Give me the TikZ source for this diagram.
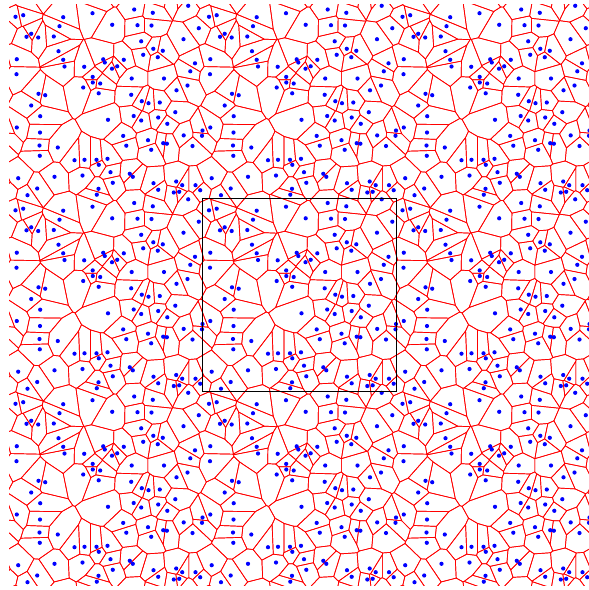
\documentclass[tikz,border=0pt]{standalone}
\usetikzlibrary{calc}
\definecolor{cellred}{RGB}{255,0,0}
\definecolor{siteblue}{RGB}{0,0,255}

\def\tilesize{193.5}
\def\reach{66}
% sites of the framed tile
\def\sitelist{209/210.3, 216.7/208.7, 256.7/210.7, 253/219.7, 224.7/227.3,
  220/230.3, 231.7/231, 247.3/230, 252/244.7, 210.3/252.7, 256.7/253.3,
  258/260, 327.7/203, 286/206.7, 305.7/218.3, 331/218.7, 334.7/234.8,
  296.7/252.8, 298.3/256, 317.3/253.3, 277.7/260.3, 305.5/262.2, 310.7/259.8,
  381.7/199.3, 346.3/206.3, 345/219, 392.3/221.7, 377/232.7, 346.8/242.3,
  356.3/244.3, 336.7/248.3, 351.3/250.7, 388.5/256.8, 210/267.7, 232/287.3,
  238.7/288.7, 224.7/299, 233.7/309.7, 210.3/321, 396/324, 233.5/326,
  286.2/270.4, 325.2/272, 276.7/281, 286.3/276, 293.7/277, 292.2/286.8,
  324.7/288.3, 301.5/313.3, 327.2/309.5, 316.7/329.4, 383.8/264.8, 357.5/272,
  370/283.8, 381/279, 335.3/294.7, 342/296.7, 353.3/296, 368.8/305.7,
  351.7/311, 334.7/314, 360.8/317.3, 395.5/329.3, 377.2/328.9, 233/339,
  251.3/341, 233.3/349.3, 268/353.7, 211.7/371.7, 248/370.3, 230.7/382,
  221/388.7, 319.8/339.2, 278/353.3, 290/353.3, 301/352.3, 292.3/358.3,
  276/369, 304/365.7, 323.3/367.3, 326.3/370.3, 306.3/376.3, 292/382.3,
  290.3/388.2, 341.5/333.7, 356.7/336.7, 360.4/337.2, 344.7/343.3, 386/339.5,
  347/376.7, 351.7/383.3, 369.7/375, 375.7/378.7, 389/378.7, 393.7/383.7,
  367.3/386, 372.7/385.3}

% cutting the cell polygon (\vtx{x}{y} list) by one half-plane
\newcommand\lastvtx[2]{\def\prevx{#1}\def\prevy{#2}}
\newcommand\pathvtx[2]{ -- (#1,#2)}
\newcommand\addcross[2]{%
  \pgfmathsetmacro\crossx{\prevx+(\prevf)/((\prevf)-(\curf))*((#1)-(\prevx))}%
  \pgfmathsetmacro\crossy{\prevy+(\prevf)/((\prevf)-(\curf))*((#2)-(\prevy))}%
  \edef\newpoly{\unexpanded\expandafter{\newpoly}\noexpand\vtx{\crossx}{\crossy}}}
\newcommand\clipvtx[2]{%
  \pgfmathsetmacro\curf{(#1)*(\offx)+(#2)*(\offy)-\halfsq}%
  \ifdim\curf pt>0pt
    \ifdim\prevf pt>0pt\else\addcross{#1}{#2}\fi
  \else
    \ifdim\prevf pt>0pt\addcross{#1}{#2}\fi
    \edef\newpoly{\unexpanded\expandafter{\newpoly}\noexpand\vtx{#1}{#2}}%
  \fi
  \def\prevx{#1}\def\prevy{#2}\let\prevf\curf}
\newcommand\halfcut{%
  \pgfmathsetmacro\halfsq{0.5*((\offx)*(\offx)+(\offy)*(\offy))}%
  \let\vtx\lastvtx\cellpoly
  \pgfmathsetmacro\prevf{(\prevx)*(\offx)+(\prevy)*(\offy)-\halfsq}%
  \let\newpoly\empty
  \let\vtx\clipvtx\cellpoly
  \global\let\cellpoly\newpoly}

\begin{document}
\begin{tikzpicture}[x=1pt, y=1pt, yscale=-1,
    cell/.style={draw=cellred, line width=0.7pt, line join=round},
    site/.style={fill=siteblue},
    frame/.style={draw=black, line width=0.8pt}]
  \useasboundingbox (0,0) rectangle (589,590);

  \begin{scope}
    \clip (9,4.5) rectangle (589.5,585);
    \foreach \xa/\ya [count=\ia] in \sitelist {
      \gdef\cellpoly{\vtx{-75}{-75}\vtx{75}{-75}\vtx{75}{75}\vtx{-75}{75}}
      \foreach \xb/\yb [count=\ib] in \sitelist {
        \ifnum\ia=\ib\relax\else
          \pgfmathsetmacro\offx{mod(\xb-\xa+1.5*\tilesize,\tilesize)-0.5*\tilesize}
          \pgfmathsetmacro\offy{mod(\yb-\ya+1.5*\tilesize,\tilesize)-0.5*\tilesize}
          \pgfmathtruncatemacro\isnear{veclen(\offx,\offy)<\reach}
          \ifnum\isnear=1 \halfcut\fi
        \fi
      }
      \let\vtx\lastvtx\cellpoly
      \let\vtx\pathvtx
      \xdef\cellpath{(\prevx,\prevy)\cellpoly -- cycle}
      \foreach \sx in {-2,...,2} {
        \foreach \sy in {-2,...,2} {
          \pgfmathsetmacro\px{\xa+\sx*\tilesize}
          \pgfmathsetmacro\py{\ya+\sy*\tilesize}
          \pgfmathtruncatemacro\shown{(\px>-40)&&(\px<640)&&(\py>-45)&&(\py<635)}
          \ifnum\shown=1
            \draw[cell, shift={(\px,\py)}] \cellpath;
          \fi
        }
      }
    }
  \end{scope}

  \foreach \xa/\ya in \sitelist {
    \foreach \sx in {-1,0,1} {
      \foreach \sy in {-1,0,1} {
        \fill[site] ({\xa+\sx*\tilesize},{\ya+\sy*\tilesize}) circle (2.1);
      }
    }
  }
  \draw[frame] (202.5,198) rectangle (396,391.5);
\end{tikzpicture}
\end{document}
